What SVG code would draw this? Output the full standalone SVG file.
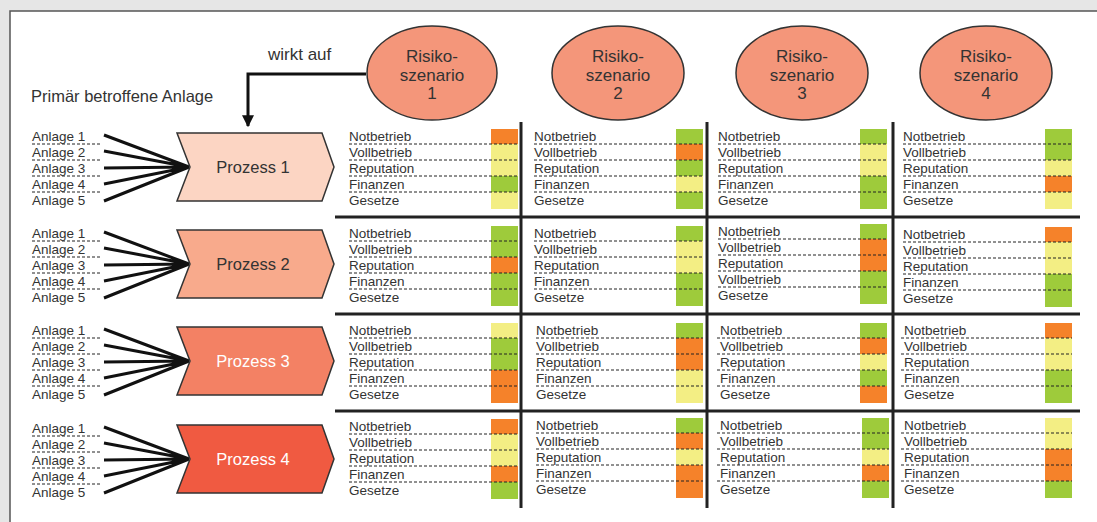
<svg xmlns="http://www.w3.org/2000/svg" width="1097" height="522" viewBox="0 0 1097 522">
<style>
text{font-family:"Liberation Sans",Arial,sans-serif;fill:#333}
.lb{font-size:13.5px}
.hd{font-size:16.5px}
.ell{font-size:17px;text-anchor:middle}
.pz{font-size:16.5px;text-anchor:middle}
.o{fill:#f5822a}.y{fill:#f3ee84}.g{fill:#9ecb3b}
.dot{fill:none;stroke:#222;stroke-width:1;stroke-dasharray:3 2}
.sep{stroke:#222;stroke-width:3;fill:none}
.fan{stroke:#111;stroke-width:3;fill:none}
.chev{stroke:#333;stroke-width:1.5}
.scen{fill:#f4967a;stroke:#333;stroke-width:1.5}
</style>
<defs>
<marker id="ah" viewBox="0 0 10 10" refX="9" refY="5" markerWidth="4" markerHeight="4" orient="auto" markerUnits="strokeWidth"><path d="M0,0L10,5L0,10z" fill="#111"/></marker>
<g id="cellbase"><path class="dot" d="M0 3H169M0 19H169M0 35H169M0 51H169"/></g>
</defs>
<rect width="1097" height="522" fill="#e6e6e6"/>
<rect x="10" y="11" width="1100" height="520" fill="#fff" stroke="#555" stroke-width="1.5"/>

<text class="hd" x="31" y="102">Primär betroffene Anlage</text>
<text class="hd" x="268" y="60" style="font-size:17px">wirkt auf</text>

<g id="scenario1"><ellipse class="scen" cx="432" cy="73" rx="65" ry="47"/><text class="ell" x="432" y="62">Risiko-</text><text class="ell" x="432" y="81">szenario</text><text class="ell" x="432" y="99">1</text></g>
<g id="scenario2"><ellipse class="scen" cx="618" cy="73" rx="66" ry="47"/><text class="ell" x="618" y="62">Risiko-</text><text class="ell" x="618" y="81">szenario</text><text class="ell" x="618" y="99">2</text></g>
<g id="scenario3"><ellipse class="scen" cx="802" cy="73" rx="66" ry="47"/><text class="ell" x="802" y="62">Risiko-</text><text class="ell" x="802" y="81">szenario</text><text class="ell" x="802" y="99">3</text></g>
<g id="scenario4"><ellipse class="scen" cx="986" cy="73" rx="66" ry="47"/><text class="ell" x="986" y="62">Risiko-</text><text class="ell" x="986" y="81">szenario</text><text class="ell" x="986" y="99">4</text></g>

<g id="connectors">
<path d="M366 74H248V126" fill="none" stroke="#111" stroke-width="3" marker-end="url(#ah)"/>
<g transform="translate(0,141)"><path class="fan" d="M104 -6L189 26M104 10L189 26M104 27L189 26M104 43L189 26M104 60L189 26"/></g>
<g transform="translate(0,238)"><path class="fan" d="M104 -6L189 26M104 10L189 26M104 27L189 26M104 43L189 26M104 60L189 26"/></g>
<g transform="translate(0,335)"><path class="fan" d="M104 -6L189 26M104 10L189 26M104 27L189 26M104 43L189 26M104 60L189 26"/></g>
<g transform="translate(0,433)"><path class="fan" d="M104 -6L189 26M104 10L189 26M104 27L189 26M104 43L189 26M104 60L189 26"/></g>
</g>

<g id="grid">
<path class="sep" d="M521 122V508M707 122V508M893 122V508M335 217H1080M335 314H1080M335 411H1080"/>
</g>

<g id="process1" transform="translate(0,141)">
<polygon class="chev" fill="#fcd5c3" points="177,-8 322,-8 334,26 322,60 177,60 190,26"/>
<text class="pz" x="253" y="32">Prozess 1</text>
<path class="dot" d="M32 3H100M32 19H100M32 35H100M32 51H100"/>
<text class="lb" x="32" y="0">Anlage 1</text><text class="lb" x="32" y="16">Anlage 2</text><text class="lb" x="32" y="32">Anlage 3</text><text class="lb" x="32" y="48">Anlage 4</text><text class="lb" x="32" y="64">Anlage 5</text>
</g>
<g id="process2" transform="translate(0,238)">
<polygon class="chev" fill="#f8aa8c" points="177,-8 322,-8 334,26 322,60 177,60 190,26"/>
<text class="pz" x="253" y="32">Prozess 2</text>
<path class="dot" d="M32 3H100M32 19H100M32 35H100M32 51H100"/>
<text class="lb" x="32" y="0">Anlage 1</text><text class="lb" x="32" y="16">Anlage 2</text><text class="lb" x="32" y="32">Anlage 3</text><text class="lb" x="32" y="48">Anlage 4</text><text class="lb" x="32" y="64">Anlage 5</text>
</g>
<g id="process3" transform="translate(0,335)">
<polygon class="chev" fill="#f38164" points="177,-8 322,-8 334,26 322,60 177,60 190,26"/>
<text class="pz" x="253" y="32" style="fill:#fff">Prozess 3</text>
<path class="dot" d="M32 3H100M32 19H100M32 35H100M32 51H100"/>
<text class="lb" x="32" y="0">Anlage 1</text><text class="lb" x="32" y="16">Anlage 2</text><text class="lb" x="32" y="32">Anlage 3</text><text class="lb" x="32" y="48">Anlage 4</text><text class="lb" x="32" y="64">Anlage 5</text>
</g>
<g id="process4" transform="translate(0,433)">
<polygon class="chev" fill="#f05a41" points="177,-8 322,-8 334,26 322,60 177,60 190,26"/>
<text class="pz" x="253" y="32" style="fill:#fff">Prozess 4</text>
<path class="dot" d="M32 3H100M32 19H100M32 35H100M32 51H100"/>
<text class="lb" x="32" y="0">Anlage 1</text><text class="lb" x="32" y="16">Anlage 2</text><text class="lb" x="32" y="32">Anlage 3</text><text class="lb" x="32" y="48">Anlage 4</text><text class="lb" x="32" y="64">Anlage 5</text>
</g>

<!-- Row 1 -->
<g id="r1c1" transform="translate(349,141)"><rect class="o" x="142" y="-12" width="27" height="15"/><rect class="y" x="142" y="3" width="27" height="16"/><rect class="y" x="142" y="19" width="27" height="16"/><rect class="g" x="142" y="35" width="27" height="16"/><rect class="y" x="142" y="51" width="27" height="17"/><use href="#cellbase"/><text class="lb" y="0">Notbetrieb</text><text class="lb" y="16">Vollbetrieb</text><text class="lb" y="32">Reputation</text><text class="lb" y="48">Finanzen</text><text class="lb" y="64">Gesetze</text></g>
<g id="r1c2" transform="translate(534,141)"><rect class="g" x="142" y="-12" width="27" height="15"/><rect class="o" x="142" y="3" width="27" height="16"/><rect class="g" x="142" y="19" width="27" height="16"/><rect class="y" x="142" y="35" width="27" height="16"/><rect class="g" x="142" y="51" width="27" height="17"/><use href="#cellbase"/><text class="lb" y="0">Notbetrieb</text><text class="lb" y="16">Vollbetrieb</text><text class="lb" y="32">Reputation</text><text class="lb" y="48">Finanzen</text><text class="lb" y="64">Gesetze</text></g>
<g id="r1c3" transform="translate(718,141)"><rect class="g" x="142" y="-12" width="27" height="15"/><rect class="y" x="142" y="3" width="27" height="16"/><rect class="y" x="142" y="19" width="27" height="16"/><rect class="g" x="142" y="35" width="27" height="16"/><rect class="g" x="142" y="51" width="27" height="17"/><use href="#cellbase"/><text class="lb" y="0">Notbetrieb</text><text class="lb" y="16">Vollbetrieb</text><text class="lb" y="32">Reputation</text><text class="lb" y="48">Finanzen</text><text class="lb" y="64">Gesetze</text></g>
<g id="r1c4" transform="translate(903,141)"><rect class="g" x="142" y="-12" width="27" height="15"/><rect class="g" x="142" y="3" width="27" height="16"/><rect class="y" x="142" y="19" width="27" height="16"/><rect class="o" x="142" y="35" width="27" height="16"/><rect class="y" x="142" y="51" width="27" height="17"/><use href="#cellbase"/><text class="lb" y="0">Notbetrieb</text><text class="lb" y="16">Vollbetrieb</text><text class="lb" y="32">Reputation</text><text class="lb" y="48">Finanzen</text><text class="lb" y="64">Gesetze</text></g>
<!-- Row 2 -->
<g id="r2c1" transform="translate(349,238)"><rect class="g" x="142" y="-12" width="27" height="15"/><rect class="g" x="142" y="3" width="27" height="16"/><rect class="o" x="142" y="19" width="27" height="16"/><rect class="g" x="142" y="35" width="27" height="16"/><rect class="g" x="142" y="51" width="27" height="17"/><use href="#cellbase"/><text class="lb" y="0">Notbetrieb</text><text class="lb" y="16">Vollbetrieb</text><text class="lb" y="32">Reputation</text><text class="lb" y="48">Finanzen</text><text class="lb" y="64">Gesetze</text></g>
<g id="r2c2" transform="translate(534,238)"><rect class="g" x="142" y="-12" width="27" height="15"/><rect class="y" x="142" y="3" width="27" height="16"/><rect class="y" x="142" y="19" width="27" height="16"/><rect class="g" x="142" y="35" width="27" height="16"/><rect class="g" x="142" y="51" width="27" height="17"/><use href="#cellbase"/><text class="lb" y="0">Notbetrieb</text><text class="lb" y="16">Vollbetrieb</text><text class="lb" y="32">Reputation</text><text class="lb" y="48">Finanzen</text><text class="lb" y="64">Gesetze</text></g>
<g id="r2c3" transform="translate(718,236)"><rect class="g" x="142" y="-12" width="27" height="15"/><rect class="o" x="142" y="3" width="27" height="16"/><rect class="o" x="142" y="19" width="27" height="16"/><rect class="g" x="142" y="35" width="27" height="16"/><rect class="g" x="142" y="51" width="27" height="17"/><use href="#cellbase"/><text class="lb" y="0">Notbetrieb</text><text class="lb" y="16">Vollbetrieb</text><text class="lb" y="32">Reputation</text><text class="lb" y="48">Vollbetrieb</text><text class="lb" y="64">Gesetze</text></g>
<g id="r2c4" transform="translate(903,239)"><rect class="o" x="142" y="-12" width="27" height="15"/><rect class="y" x="142" y="3" width="27" height="16"/><rect class="y" x="142" y="19" width="27" height="16"/><rect class="g" x="142" y="35" width="27" height="16"/><rect class="g" x="142" y="51" width="27" height="17"/><use href="#cellbase"/><text class="lb" y="0">Notbetrieb</text><text class="lb" y="16">Vollbetrieb</text><text class="lb" y="32">Reputation</text><text class="lb" y="48">Finanzen</text><text class="lb" y="64">Gesetze</text></g>
<!-- Row 3 -->
<g id="r3c1" transform="translate(349,335)"><rect class="y" x="142" y="-12" width="27" height="15"/><rect class="g" x="142" y="3" width="27" height="16"/><rect class="g" x="142" y="19" width="27" height="16"/><rect class="o" x="142" y="35" width="27" height="16"/><rect class="o" x="142" y="51" width="27" height="17"/><use href="#cellbase"/><text class="lb" y="0">Notbetrieb</text><text class="lb" y="16">Vollbetrieb</text><text class="lb" y="32">Reputation</text><text class="lb" y="48">Finanzen</text><text class="lb" y="64">Gesetze</text></g>
<g id="r3c2" transform="translate(536,335)"><rect class="g" x="140" y="-12" width="27" height="15"/><rect class="o" x="140" y="3" width="27" height="16"/><rect class="o" x="140" y="19" width="27" height="16"/><rect class="y" x="140" y="35" width="27" height="16"/><rect class="y" x="140" y="51" width="27" height="17"/><path class="dot" d="M0 3H167M0 19H167M0 35H167M0 51H167"/><text class="lb" y="0">Notbetrieb</text><text class="lb" y="16">Vollbetrieb</text><text class="lb" y="32">Reputation</text><text class="lb" y="48">Finanzen</text><text class="lb" y="64">Gesetze</text></g>
<g id="r3c3" transform="translate(720,335)"><rect class="g" x="140" y="-12" width="27" height="15"/><rect class="o" x="140" y="3" width="27" height="16"/><rect class="y" x="140" y="19" width="27" height="16"/><rect class="g" x="140" y="35" width="27" height="16"/><rect class="o" x="140" y="51" width="27" height="17"/><path class="dot" d="M-3 3H167M-3 19H167M-3 35H167M-3 51H167"/><text class="lb" y="0">Notbetrieb</text><text class="lb" y="16">Vollbetrieb</text><text class="lb" y="32">Reputation</text><text class="lb" y="48">Finanzen</text><text class="lb" y="64">Gesetze</text></g>
<g id="r3c4" transform="translate(904,335)"><rect class="o" x="141" y="-12" width="27" height="15"/><rect class="y" x="141" y="3" width="27" height="16"/><rect class="y" x="141" y="19" width="27" height="16"/><rect class="g" x="141" y="35" width="27" height="16"/><rect class="g" x="141" y="51" width="27" height="17"/><path class="dot" d="M-3 3H168M-3 19H168M-3 35H168M-3 51H168"/><text class="lb" y="0">Notbetrieb</text><text class="lb" y="16">Vollbetrieb</text><text class="lb" y="32">Reputation</text><text class="lb" y="48">Finanzen</text><text class="lb" y="64">Gesetze</text></g>
<!-- Row 4 -->
<g id="r4c1" transform="translate(349,431)"><rect class="o" x="142" y="-12" width="27" height="15"/><rect class="y" x="142" y="3" width="27" height="16"/><rect class="y" x="142" y="19" width="27" height="16"/><rect class="o" x="142" y="35" width="27" height="16"/><rect class="g" x="142" y="51" width="27" height="17"/><use href="#cellbase"/><text class="lb" y="0">Notbetrieb</text><text class="lb" y="16">Vollbetrieb</text><text class="lb" y="32">Reputation</text><text class="lb" y="48">Finanzen</text><text class="lb" y="64">Gesetze</text></g>
<g id="r4c2" transform="translate(536,430)"><rect class="g" x="140" y="-12" width="27" height="15"/><rect class="o" x="140" y="3" width="27" height="16"/><rect class="y" x="140" y="19" width="27" height="16"/><rect class="o" x="140" y="35" width="27" height="16"/><rect class="o" x="140" y="51" width="27" height="17"/><path class="dot" d="M0 3H167M0 19H167M0 35H167M0 51H167"/><text class="lb" y="0">Notbetrieb</text><text class="lb" y="16">Vollbetrieb</text><text class="lb" y="32">Reputation</text><text class="lb" y="48">Finanzen</text><text class="lb" y="64">Gesetze</text></g>
<g id="r4c3" transform="translate(720,430)"><rect class="g" x="142" y="-12" width="27" height="15"/><rect class="g" x="142" y="3" width="27" height="16"/><rect class="y" x="142" y="19" width="27" height="16"/><rect class="o" x="142" y="35" width="27" height="16"/><rect class="g" x="142" y="51" width="27" height="17"/><path class="dot" d="M-3 3H169M-3 19H169M-3 35H169M-3 51H169"/><text class="lb" y="0">Notbetrieb</text><text class="lb" y="16">Vollbetrieb</text><text class="lb" y="32">Reputation</text><text class="lb" y="48">Finanzen</text><text class="lb" y="64">Gesetze</text></g>
<g id="r4c4" transform="translate(904,430)"><rect class="y" x="141" y="-12" width="27" height="15"/><rect class="y" x="141" y="3" width="27" height="16"/><rect class="o" x="141" y="19" width="27" height="16"/><rect class="o" x="141" y="35" width="27" height="16"/><rect class="g" x="141" y="51" width="27" height="17"/><path class="dot" d="M-3 3H168M-3 19H168M-3 35H168M-3 51H168"/><text class="lb" y="0">Notbetrieb</text><text class="lb" y="16">Vollbetrieb</text><text class="lb" y="32">Reputation</text><text class="lb" y="48">Finanzen</text><text class="lb" y="64">Gesetze</text></g>
</svg>
